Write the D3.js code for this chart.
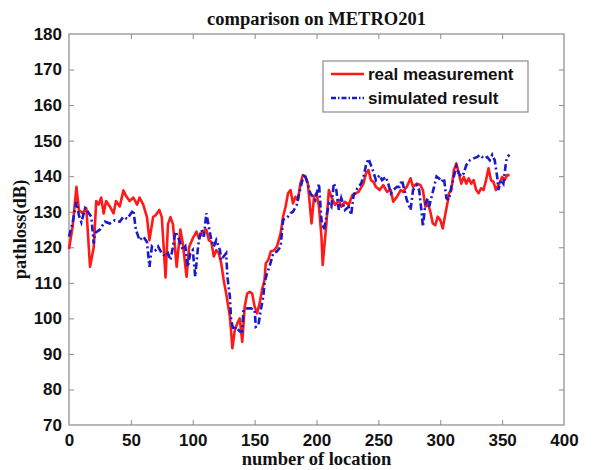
<!DOCTYPE html>
<html><head><meta charset="utf-8">
<script src="https://cdn.jsdelivr.net/npm/d3@7"></script>
<style>body{margin:0;background:#fff}svg{display:block}</style>
</head><body>
<script>
const xTicks = [0,50,100,150,200,250,300,350,400];
const yTicks = [70,80,90,100,110,120,130,140,150,160,170,180];
const seriesNames = ["real measurement","simulated result"];

const redX = [0,3,6,8,11,14,17,20,22,24,26,28,30,33,36,38,41,44,46,49,52,55,57,60,63,65,68,70,73,75,78,80,82,84,87,90,92,95,97,100,103,105,108,111,113,115,117,119,121,123,125,127,130,131,132,134,136,138,139,140,142,144,146,148,150,152,154,156,158,159,161,163,166,168,171,173,175,177,179,181,183,185,187,189,191,193,196,198,200,202,204,205,208,210,212,215,218,220,223,226,229,232,234,238,240,242,244,246,248,251,254,257,260,262,265,268,270,273,276,278,281,284,286,288,290,292,294,296,298,300,302,304,306,307,309,311,313,315,317,319,321,323,325,327,329,331,333,335,337,339,341,343,345,347,349,350,352,354,356];
const redY = [119.5,126,137,130.5,129.6,131,114.5,120,133,132,134,129.5,133,131.5,129.5,133,131.5,136,134.5,133,134,132,134,132,128.5,122,128.5,129,130.5,128.5,111.5,126.5,128.5,126.5,114.5,125,121,111.7,120,122.5,124.4,122.5,124.4,125,122,121.5,117.4,119.2,118.3,115.5,110.8,107,100.5,96.3,91.6,96.7,98.6,100,96.7,93.4,103.3,107,107.5,107,103.3,101.4,104.2,108,110.8,115.5,116.4,118.8,119.2,120.2,123.9,128.6,131.4,135.2,136.1,132.3,134.2,133.3,138,140.3,140,138,126.7,134.2,135.2,131.4,123,115,126.7,136.1,134.2,131.9,133.3,131.4,132.8,131.9,134.7,135.2,135.6,138,140.8,141.7,138.9,138.4,137,136.1,137.5,135.6,136.1,132.8,134.2,136.1,135.6,137,139.4,137,137.9,137.5,136,131.4,132.3,130,126.7,126.2,128.6,127.7,125.3,129.1,132.8,135.2,136.1,141.7,143.6,140.8,137.9,139.8,137.9,139.4,137.9,138.9,136.1,135.2,136.6,136.1,138.9,142.2,138.9,138.4,136.1,137.5,138.9,139.8,138.9,140.3,140.3];

const blueX = [0,3,6,8,10,13,16,18,20,21,25,29,33,37,41,44,47,51,52,54,57,60,63,65,67,70,72,75,78,80,82,84,86,88,90,92,94,96,98,100,102,104,105,107,109,111,113,115,117,119,122,123,125,127,128,130,131,133,135,138,140,141,144,147,150,151,153,155,157,158,160,162,165,168,171,173,176,179,181,184,186,188,190,192,195,199,202,204,206,208,210,212,214,216,218,220,223,226,228,230,233,236,238,240,242,244,246,248,251,253,256,258,260,262,265,267,269,272,273,276,278,281,283,285,286,288,290,291,293,295,297,299,301,303,305,307,309,311,313,315,317,319,321,324,327,330,332,335,338,340,342,344,346,347,349,351,353,354,356];
const blueY = [123,127,132.8,129,127,131,129.6,128.6,121,124,125,127.2,126.7,127.6,127.2,128.6,128,130,130.5,125,122,123,121.5,114.5,120.2,119.2,120.2,118.3,117.4,118.3,116.4,120.2,124.4,123,121.1,119.2,120.2,114.5,118.3,119.2,111.7,119.2,122,124.9,123,129.6,125.8,122,120.2,122,119.2,116.4,117.4,118.3,111.7,106.1,99.5,96.7,97.6,96.3,96.3,102.4,102.8,102.8,102.4,97.6,98,102.4,106.1,109.9,112.7,114.5,118.3,118.8,120.2,127.7,128.2,129.6,130,131.9,135.2,138,140.6,138.9,135.2,133.3,137.9,127.7,124.9,128.6,132.3,131.4,138,136.1,130.5,133.8,130.5,131.4,129.1,134.7,136.6,137.9,139.8,143.1,144.9,143.1,141.2,138.9,140.3,138.9,139.8,137.9,135.2,136.1,137,137,138.9,134.7,133.3,130.5,136.1,137.5,136,129.6,125.8,132.3,133.8,131.4,134.2,137,139.9,139.4,138.4,139.4,133.8,133.3,137,139.9,142.7,140.8,139.9,140.8,143.1,144.5,145,145.4,146,145,145.4,144.5,146,144.5,139.9,136.1,138.9,137.9,143.6,145.4,146];

const W = 593, H = 470;
const m = {left:69, right:564, top:34, bottom:425};
const svg = d3.select("body").append("svg").attr("width",W).attr("height",H);

const x = d3.scaleLinear().domain([0,400]).range([m.left,m.right]);
const y = d3.scaleLinear().domain([70,180]).range([m.bottom,m.top]);

const tickFont = "'Liberation Sans', Arial, sans-serif";
const serif = "'Liberation Serif', 'Times New Roman', serif";
const frameColor = "#8a8a8a";

// axes with inward ticks
const gx = svg.append("g").attr("transform",`translate(0,${m.bottom})`)
  .call(d3.axisBottom(x).tickValues(xTicks).tickSizeInner(-5).tickSizeOuter(0).tickPadding(9));
const gxt = svg.append("g").attr("transform",`translate(0,${m.top})`)
  .call(d3.axisTop(x).tickValues(xTicks).tickSizeInner(-5).tickSizeOuter(0).tickFormat(""));
const gy = svg.append("g").attr("transform",`translate(${m.left},0)`)
  .call(d3.axisLeft(y).tickValues(yTicks).tickSizeInner(-5).tickSizeOuter(0).tickPadding(7));
const gyr = svg.append("g").attr("transform",`translate(${m.right},0)`)
  .call(d3.axisRight(y).tickValues(yTicks).tickSizeInner(-5).tickSizeOuter(0).tickFormat(""));
[gx,gxt,gy,gyr].forEach(g=>{
  g.select(".domain").remove();
  g.selectAll("line").attr("stroke",frameColor);
  g.selectAll("text").attr("font-family",tickFont).attr("font-weight","bold")
   .attr("font-size",17).attr("fill","#111");
});
gx.selectAll(".tick").filter(d=>d===0||d===400).selectAll("line").remove();
gy.selectAll(".tick").filter(d=>d===70||d===180).selectAll("line").remove();
gyr.selectAll(".tick").filter(d=>d===70||d===180).selectAll("line").remove();
gxt.selectAll(".tick").filter(d=>d===0||d===400).selectAll("line").remove();

svg.append("rect").attr("x",m.left).attr("y",m.top)
  .attr("width",m.right-m.left).attr("height",m.bottom-m.top)
  .attr("fill","none").attr("stroke",frameColor).attr("stroke-width",1.2);

const line = d3.line().x(d=>x(d[0])).y(d=>y(d[1]));
const redData = redX.map((v,i)=>[v,redY[i]]);
const blueData = blueX.map((v,i)=>[v,blueY[i]]);

svg.append("path").datum(redData).attr("d",line).attr("fill","none")
  .attr("stroke","#ff1a1a").attr("stroke-width",2.6).attr("stroke-linejoin","round");
svg.append("path").datum(blueData).attr("d",line).attr("fill","none")
  .attr("stroke","#1a1acc").attr("stroke-width",2.6).attr("stroke-dasharray","7,3,2,3");

// title & labels
svg.append("text").attr("x",(m.left+m.right)/2).attr("y",25).attr("text-anchor","middle")
  .attr("font-family",serif).attr("font-weight","bold").attr("font-size",18.5).attr("fill","#111")
  .text("comparison on METRO201");
svg.append("text").attr("x",(m.left+m.right)/2).attr("y",465).attr("text-anchor","middle")
  .attr("font-family",serif).attr("font-weight","bold").attr("font-size",18.5).attr("fill","#111")
  .text("number of location");
svg.append("text").attr("transform",`translate(26,${(m.top+m.bottom)/2}) rotate(-90)`)
  .attr("text-anchor","middle")
  .attr("font-family",serif).attr("font-weight","bold").attr("font-size",18.5).attr("fill","#111")
  .text("pathloss(dB)");

// legend
const lg = svg.append("g");
lg.append("rect").attr("x",323).attr("y",61).attr("width",205).attr("height",51)
  .attr("fill","#fff").attr("stroke",frameColor).attr("stroke-width",1.2);
const rows = [{name:seriesNames[0],color:"#ff1a1a",dash:null,y:74},{name:seriesNames[1],color:"#1a1acc",dash:"5,2,1.5,2",y:98}];
rows.forEach(r=>{
  lg.append("line").attr("x1",331).attr("x2",364).attr("y1",r.y).attr("y2",r.y)
    .attr("stroke",r.color).attr("stroke-width",2.4).attr("stroke-dasharray",r.dash);
  lg.append("text").attr("x",368).attr("y",r.y).attr("dy","0.35em")
    .attr("font-family",tickFont).attr("font-weight","bold").attr("font-size",17).attr("fill","#111")
    .text(r.name);
});
</script>
</body></html>
